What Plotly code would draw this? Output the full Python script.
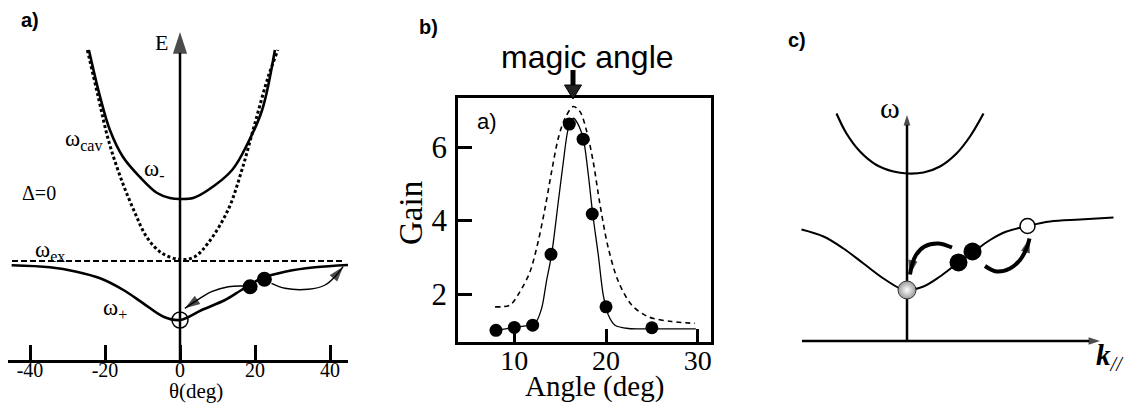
import plotly.graph_objects as go

W, H = 1137, 412
# the page body keeps its default 8px margin, so the figure is drawn 16px smaller
BODY = 8
FW, FH = W - 2 * BODY, H - 2 * BODY
SERIF = "Liberation Serif, Times New Roman, serif"
SANS = "Liberation Sans, Arial, sans-serif"

# ---------------- Panel a : polariton dispersion (theta in deg, E arb. units)
theta_minus = [-24.3, -21.3, -18.7, -15.2, -10.7, -6.1, -2.7, 0, 3.5, 7.5, 13.9, 18.1, 21.9, 25.3]
E_minus = [31.0, 26.3, 23.0, 20.3, 18.3, 16.7, 16.2, 16.1, 16.2, 17.0, 19.0, 21.7, 25.0, 31.0]
theta_cav = [-24.7, -21.8, -19.1, -15.6, -12.0, -8.9, -4.9, 0, 3.8, 7.5, 12.8, 16.5, 20.0, 23.5, 26.1]
E_cav = [31.0, 26.3, 22.0, 18.0, 14.7, 12.3, 10.7, 10.05, 10.3, 11.7, 15.0, 19.0, 23.7, 28.3, 31.0]
theta_ex = [-44.8, 43.5]
E_ex = [9.9, 9.9]
theta_plus = [-44.9, -34.7, -27.6, -21.3, -15.1, -9.8, -4.4, 0, 5.8, 12.0, 16.4, 21.8, 28.0, 36.0, 44.9]
E_plus = [9.47, 9.27, 8.83, 8.17, 7.0, 5.67, 4.33, 4.0, 5.0, 6.0, 7.0, 8.17, 8.83, 9.27, 9.5]
theta_pair = [18.7, 22.5]
E_pair = [7.33, 8.07]
theta_ground = [0]
E_ground = [4.0]
arrow_a1_theta = [16.9, 12.9, 8.4, 5.3, 1.3]
arrow_a1_E = [7.4, 7.33, 6.83, 6.17, 5.17]
arrow_a2_theta = [24.4, 28.0, 34.2, 38.7, 41.3, 43.5]
arrow_a2_E = [7.67, 7.17, 7.07, 7.5, 8.33, 9.33]
a_ticks = [-40, -20, 0, 20, 40]
a_ticklabels = ["-40", "-20", "0", "20", "40"]
a_Eaxis_top = 32.8

# ---------------- Panel b : gain vs angle
angle_pts = [8.0, 10.0, 12.0, 14.0, 16.0, 17.5, 18.5, 20.0, 25.0]
gain_pts = [1.01, 1.09, 1.15, 3.08, 6.63, 6.22, 4.18, 1.65, 1.08]
fit_angle = [8.0, 10.0, 12.25, 12.98, 13.5, 14.07, 14.8, 15.35, 15.9, 16.45, 16.9, 17.53,
             18.07, 18.55, 19.16, 19.7, 20.25, 20.98, 22.44, 25.35, 29.8]
fit_gain = [1.01, 1.09, 1.2, 1.61, 2.34, 3.08, 4.52, 5.61, 6.52, 6.79, 6.65, 6.22,
            5.25, 4.18, 3.06, 1.97, 1.43, 1.15, 1.06, 1.05, 1.05]
dash_angle = [7.9, 9.53, 10.6, 11.7, 12.6, 13.35, 14.07, 14.8, 15.53, 16.44, 17.16, 17.9,
              18.6, 19.35, 20.25, 21.35, 22.8, 24.6, 27.16, 29.7]
dash_gain = [1.65, 1.7, 2.06, 2.6, 3.43, 4.34, 5.34, 6.25, 6.79, 7.11, 6.97, 6.43,
             5.61, 4.43, 3.25, 2.34, 1.7, 1.38, 1.25, 1.2]
b_xticks = [10, 20, 30]
b_yticks = [2, 4, 6]

# ---------------- Panel c : schematic dispersion (k, omega arb. units)
k_upper = [-1.41, -1.21, -0.94, -0.61, -0.27, 0, 0.33, 0.66, 0.99, 1.26, 1.53]
w_upper = [4.55, 4.15, 3.79, 3.52, 3.39, 3.35, 3.37, 3.49, 3.75, 4.09, 4.55]
k_lower = [-2.11, -1.67, -1.27, -0.87, -0.47, -0.14, 0, 0.33, 0.66, 0.99, 1.29, 1.66,
           1.99, 2.41, 2.86, 3.46, 4.13]
w_lower = [2.23, 2.09, 1.85, 1.55, 1.25, 1.05, 1.02, 1.09, 1.29, 1.54, 1.75, 2.02,
           2.19, 2.30, 2.39, 2.43, 2.47]
k_pair = [1.03, 1.31]
w_pair = [1.57, 1.79]
k_ground = [0]
w_ground = [1.02]
k_final = [2.41]
w_final = [2.30]
arrow_c1_k = [0.9, 0.62, 0.35, 0.18, 0.1, 0.06]
arrow_c1_w = [1.87, 1.95, 1.89, 1.72, 1.52, 1.33]
arrow_c2_k = [1.56, 1.79, 2.06, 2.26, 2.39, 2.45]
arrow_c2_w = [1.5, 1.39, 1.45, 1.62, 1.85, 2.05]
c_kaxis = [-2.1, 3.86]
c_waxis_top = 4.52


def px(x):
    return (x - BODY) / FW


def py(y):
    return 1 - (y - BODY) / FH


fig = go.Figure()


def line(x, y, xa, ya, width=2.5, dash=None, shape="spline", smoothing=1.0):
    fig.add_trace(go.Scatter(
        x=x, y=y, xaxis=xa, yaxis=ya, mode="lines", hoverinfo="skip",
        line=dict(color="black", width=width, dash=dash, shape=shape, smoothing=smoothing)))


def arrow(x, y, xa, ya, width, head, shape="spline"):
    n = len(x)
    fig.add_trace(go.Scatter(
        x=x, y=y, xaxis=xa, yaxis=ya, mode="lines+markers", hoverinfo="skip", cliponaxis=False,
        line=dict(color="black", width=width, shape=shape),
        marker=dict(symbol="arrow", size=[0] * (n - 1) + [head], angleref="previous",
                    color="black", line=dict(width=0))))


# ---- panel a
line(theta_cav, E_cav, "x", "y", width=3, dash="3px,2.5px")
line(theta_minus, E_minus, "x", "y", width=2.6)
line(theta_ex, E_ex, "x", "y", width=2, dash="6px,3px", shape="linear")
line(theta_plus, E_plus, "x", "y", width=2.6)
arrow([0, 0], [0, a_Eaxis_top], "x", "y", 2.5, 23, shape="linear")
arrow(arrow_a1_theta, arrow_a1_E, "x", "y", 1.4, 16)
arrow(arrow_a2_theta, arrow_a2_E, "x", "y", 1.4, 16)
fig.add_trace(go.Scatter(x=theta_pair, y=E_pair, xaxis="x", yaxis="y", mode="markers",
                         cliponaxis=False, hoverinfo="skip",
                         marker=dict(color="black", size=15, line=dict(width=0))))
fig.add_trace(go.Scatter(x=theta_ground, y=E_ground, xaxis="x", yaxis="y", mode="markers",
                         cliponaxis=False, hoverinfo="skip",
                         marker=dict(symbol="circle-open", color="black", size=16,
                                     line=dict(width=1.5, color="black"))))

# ---- panel b
line(dash_angle, dash_gain, "x2", "y2", width=1.6, dash="5px,4px", smoothing=0.9)
line(fit_angle, fit_gain, "x2", "y2", width=1.3, smoothing=0.8)
fig.add_trace(go.Scatter(x=angle_pts, y=gain_pts, xaxis="x2", yaxis="y2", mode="markers",
                         cliponaxis=False, hoverinfo="skip",
                         marker=dict(color="black", size=13, line=dict(width=0))))

# ---- panel c
line(k_upper, w_upper, "x3", "y3", width=2.2)
line(k_lower, w_lower, "x3", "y3", width=2.0)
arrow(c_kaxis, [0, 0], "x3", "y3", 2.5, 12, shape="linear")
arrow([0, 0], [0, c_waxis_top], "x3", "y3", 2.5, 11, shape="linear")
arrow(arrow_c1_k, arrow_c1_w, "x3", "y3", 4, 15)
arrow(arrow_c2_k, arrow_c2_w, "x3", "y3", 4, 15)
fig.add_trace(go.Scatter(x=k_pair, y=w_pair, xaxis="x3", yaxis="y3", mode="markers",
                         cliponaxis=False, hoverinfo="skip",
                         marker=dict(color="black", size=18, line=dict(width=0))))
fig.add_trace(go.Scatter(x=k_ground, y=w_ground, xaxis="x3", yaxis="y3", mode="markers",
                         cliponaxis=False, hoverinfo="skip",
                         marker=dict(color="#9a9a9a", size=18,
                                     gradient=dict(type="radial", color="#ffffff"),
                                     line=dict(width=1, color="#333333"))))
fig.add_trace(go.Scatter(x=k_final, y=w_final, xaxis="x3", yaxis="y3", mode="markers",
                         cliponaxis=False, hoverinfo="skip",
                         marker=dict(color="white", size=15, line=dict(width=1.5, color="black"))))

# ---- text
ann = []


def txt(t, x, y, size, family=SERIF, xanchor="center", yanchor="middle", angle=0):
    ann.append(dict(text=t, x=px(x), y=py(y), xref="paper", yref="paper", showarrow=False,
                    xanchor=xanchor, yanchor=yanchor, textangle=angle,
                    font=dict(family=family, size=size, color="black")))


txt("<b>a)</b>", 30, 20, 20, SANS)
txt("<b>b)</b>", 428, 27, 20, SANS)
txt("<b>c)</b>", 797, 40, 20, SANS)

txt("E", 161, 43, 22)
txt("ω<sub>cav</sub>", 63, 140, 23, xanchor="left")
txt("ω<sub>-</sub>", 142, 170, 23, xanchor="left")
txt("Δ=0", 39, 193, 20)
txt("ω<sub>ex</sub>", 33, 251, 23, xanchor="left")
txt("ω<sub>+</sub>", 101, 309, 23, xanchor="left")
txt("θ(deg)", 196, 405, 21, yanchor="bottom")

txt("magic angle", 587, 57, 32, SANS)
txt("a)", 487, 121, 22, SANS)
txt("Gain", 411, 213, 33, angle=-90)
txt("Angle (deg)", 594, 405, 29, yanchor="bottom")

txt("ω", 890, 107, 30)
txt("<b><i>k</i></b><i><sub>//</sub></i>", 1110, 357, 29)

shapes = [
    dict(type="line", xref="paper", yref="paper", x0=px(573), x1=px(573), y0=py(70), y1=py(88),
         line=dict(color="black", width=5)),
    dict(type="path", xref="paper", yref="paper",
         path=f"M {px(564.5)},{py(85)} L {px(581.5)},{py(85)} L {px(573)},{py(99)} Z",
         fillcolor="#222222", line=dict(color="black", width=1)),
]

fig.update_layout(
    width=FW, height=FH, margin=dict(l=0, r=0, t=0, b=0),
    paper_bgcolor="white", plot_bgcolor="white", showlegend=False,
    annotations=ann, shapes=shapes,
    xaxis=dict(domain=[px(8), px(348)], range=[-45.87, 44.8], anchor="y",
               showline=True, linewidth=2.6, linecolor="black", ticks="inside", ticklen=15,
               tickwidth=2.6, tickcolor="black", tickvals=a_ticks, ticktext=a_ticklabels,
               tickfont=dict(family=SERIF, size=20, color="black"), ticklabelstandoff=-10,
               showgrid=False, zeroline=False, fixedrange=True),
    yaxis=dict(domain=[py(360), py(30)], range=[0, 33], anchor="x", visible=False),
    xaxis2=dict(domain=[px(458.3), px(711)], range=[3.89, 31.45], anchor="y2",
                showline=True, mirror=True, linewidth=3, linecolor="black",
                ticks="inside", ticklen=13, tickwidth=3, tickcolor="black",
                tickvals=b_xticks, tickfont=dict(family=SERIF, size=28, color="black"),
                ticklabelstandoff=-8, showgrid=False, zeroline=False),
    yaxis2=dict(domain=[py(341.7), py(97.7)], range=[0.70, 7.35], anchor="x2",
                showline=True, mirror=True, linewidth=3, linecolor="black",
                ticks="inside", ticklen=14, tickwidth=3, tickcolor="black",
                tickvals=b_yticks, tickfont=dict(family=SERIF, size=31, color="black"),
                ticklabelstandoff=2, showgrid=False, zeroline=False),
    xaxis3=dict(domain=[px(800), px(1125)], range=[-2.14, 4.36], anchor="y3", visible=False),
    yaxis3=dict(domain=[py(345), py(100)], range=[-0.08, 4.82], anchor="x3", visible=False),
)

fig.write_html("out.html")
